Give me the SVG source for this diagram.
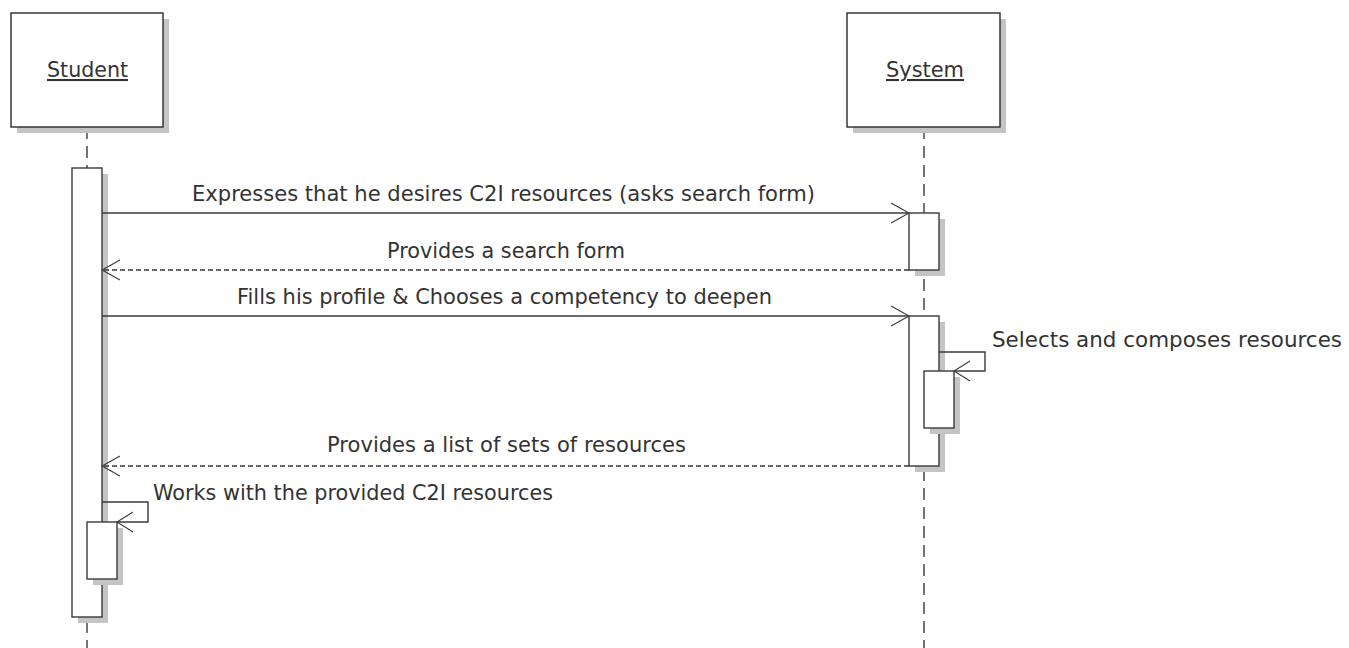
<svg xmlns="http://www.w3.org/2000/svg" width="1349" height="648" viewBox="0 0 1349 648">
  <style>
    .box { fill: #ffffff; stroke: #2a2a2a; stroke-width: 1.4; }
    .shadow { fill: #c4c4c4; stroke: none; }
    .act { fill: #ffffff; stroke: #3a3a3a; stroke-width: 1.4; }
    .life { stroke: #3a3a3a; stroke-width: 1.4; stroke-dasharray: 12 7; fill: none; }
    .msg { stroke: #3a3a3a; stroke-width: 1.4; fill: none; }
    .ret { stroke: #3a3a3a; stroke-width: 1.4; fill: none; stroke-dasharray: 5 3; }
    .head { stroke: #3a3a3a; stroke-width: 1.1; fill: none; }
    .lbl { font-family: "DejaVu Sans", "Liberation Sans", sans-serif; font-size: 20.5px; fill: #333333; }
    .title { font-family: "DejaVu Sans", "Liberation Sans", sans-serif; font-size: 20.5px; fill: #333333; text-decoration: underline; }
  </style>

  <!-- lifelines -->
  <g id="lifelines">
    <line class="life" x1="87" y1="127" x2="87" y2="648"/>
    <line class="life" x1="924" y1="127" x2="924" y2="648"/>
  </g>

  <!-- participant: Student -->
  <g id="student">
    <rect class="shadow" x="17" y="19" width="152" height="114"/>
    <rect class="box" x="11" y="13" width="152" height="114"/>
    <text class="title" x="47" y="77" textLength="81" lengthAdjust="spacingAndGlyphs">Student</text>
    <!-- activation bars -->
    <rect class="shadow" x="78" y="174" width="30" height="449"/>
    <rect class="act" x="72" y="168" width="30" height="449"/>
    <rect class="shadow" x="93" y="528" width="30" height="57"/>
    <rect class="act" x="87" y="522" width="30" height="57"/>
  </g>

  <!-- participant: System -->
  <g id="system">
    <rect class="shadow" x="853" y="19" width="153" height="114"/>
    <rect class="box" x="847" y="13" width="153" height="114"/>
    <text class="title" x="886" y="77" textLength="78" lengthAdjust="spacingAndGlyphs">System</text>
    <!-- activation bars -->
    <rect class="shadow" x="915" y="219" width="30" height="57"/>
    <rect class="act" x="909" y="213" width="30" height="57"/>
    <rect class="shadow" x="915" y="322" width="30" height="150"/>
    <rect class="act" x="909" y="316" width="30" height="150"/>
    <rect class="shadow" x="930" y="377" width="30" height="57"/>
    <rect class="act" x="924" y="371" width="30" height="57"/>
  </g>

  <!-- messages -->
  <g id="connectors">
    <line class="msg" x1="102" y1="213" x2="909" y2="213"/>
    <path class="head" d="M891,203 L909,213 L891,223"/>
    <text class="lbl" x="192" y="201" textLength="623" lengthAdjust="spacingAndGlyphs">Expresses that he desires C2I resources (asks search form)</text>

    <line class="ret" x1="909" y1="270" x2="102" y2="270"/>
    <path class="head" d="M120,260 L102,270 L120,280"/>
    <text class="lbl" x="387" y="258" textLength="238" lengthAdjust="spacingAndGlyphs">Provides a search form</text>

    <line class="msg" x1="102" y1="316" x2="909" y2="316"/>
    <path class="head" d="M891,306 L909,316 L891,326"/>
    <text class="lbl" x="237" y="304" textLength="535" lengthAdjust="spacingAndGlyphs">Fills his profile &amp; Chooses a competency to deepen</text>

    <path class="msg" d="M939,352 H985 V371 H954"/>
    <path class="head" d="M970,361 L954,371 L970,381"/>
    <text class="lbl" x="992" y="347" textLength="350" lengthAdjust="spacingAndGlyphs">Selects and composes resources</text>

    <line class="ret" x1="909" y1="466" x2="102" y2="466"/>
    <path class="head" d="M120,456 L102,466 L120,476"/>
    <text class="lbl" x="327" y="452" textLength="359" lengthAdjust="spacingAndGlyphs">Provides a list of sets of resources</text>

    <path class="msg" d="M102,502 H148 V522 H117"/>
    <path class="head" d="M133,512 L117,522 L133,532"/>
    <text class="lbl" x="153" y="500" textLength="400" lengthAdjust="spacingAndGlyphs">Works with the provided C2I resources</text>
  </g>
</svg>
